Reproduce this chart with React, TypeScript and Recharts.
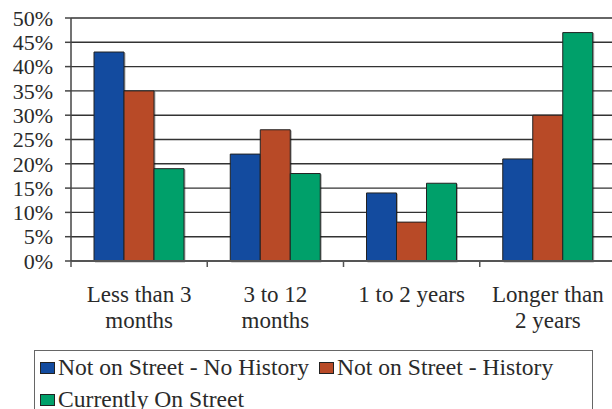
import React from 'react';
import { BarChart, Bar, XAxis, YAxis, CartesianGrid, Rectangle } from 'recharts';

const categories = ['Less than 3\nmonths', '3 to 12\nmonths', '1 to 2 years', 'Longer than\n2 years'];
const notOnStreetNoHistory = [43, 22, 14, 21];
const notOnStreetHistory = [35, 27, 8, 30];
const currentlyOnStreet = [19, 18, 16, 47];
const yTicks = [0, 5, 10, 15, 20, 25, 30, 35, 40, 45, 50];

const seriesNames = ['Not on Street - No History', 'Not on Street - History', 'Currently On Street'];
const seriesKeys = ['noHistory', 'history', 'onStreet'];
const seriesColors = ['#134B9F', '#B84A27', '#00A06A'];

const data = categories.map((c, i) => ({
  name: c,
  noHistory: notOnStreetNoHistory[i],
  history: notOnStreetHistory[i],
  onStreet: currentlyOnStreet[i],
}));

const FONT = "'Liberation Serif', 'DejaVu Serif', serif";
const CHART_W = 620;
const CHART_H = 409;
const Y_AXIS_W = 71;
const RIGHT_M = 4;
const BAND = (CHART_W - Y_AXIS_W - RIGHT_M) / categories.length;

function XTick(props: any) {
  const { x, y, payload, index } = props;
  const lines = String(payload.value).split('\n');
  return (
    <g>
      <line x1={x - BAND / 2} x2={x - BAND / 2} y1={y} y2={y + 6} stroke="#555" strokeWidth={1.5} />
      {index === categories.length - 1 && (
        <line x1={x + BAND / 2} x2={x + BAND / 2} y1={y} y2={y + 6} stroke="#555" strokeWidth={1.5} />
      )}
      <text x={x} y={y} textAnchor="middle" style={{ fontFamily: FONT }} fontSize={23} fill="#2a2a2a">
        {lines.map((l, i) => (
          <tspan key={i} x={x} y={y + 41 + i * 26}>{l}</tspan>
        ))}
      </text>
    </g>
  );
}

function YTick(props: any) {
  const { x, y, payload } = props;
  return (
    <text x={x} y={y} dy="0.35em" textAnchor="end" style={{ fontFamily: FONT }} fontSize={22} fill="#2a2a2a">
      {`${payload.value}%`}
    </text>
  );
}

function ShadowBar(props: any) {
  return <Rectangle {...props} style={{ filter: 'drop-shadow(1.5px 1px 0.6px rgba(0,0,0,0.3))' }} />;
}

function LegendBox() {
  return (
    <div
      style={{
        position: 'absolute',
        left: 34,
        top: 350,
        width: 559,
        height: 90,
        border: '1px solid #666',
        boxSizing: 'border-box',
        paddingLeft: 5,
        display: 'flex',
        flexWrap: 'wrap',
        alignContent: 'flex-start',
        fontFamily: FONT,
        fontSize: 23.6,
        lineHeight: '32px',
        color: '#2a2a2a',
      }}
    >
      {seriesNames.map((n, i) => (
        <div key={n} style={{ display: 'flex', alignItems: 'center', marginRight: 10, whiteSpace: 'nowrap' }}>
          <span
            style={{
              display: 'inline-block',
              width: 15,
              height: 12,
              background: seriesColors[i],
              border: '1px solid #222',
              boxSizing: 'border-box',
              marginRight: 3,
              marginTop: 2,
            }}
          />
          <span>{n}</span>
        </div>
      ))}
    </div>
  );
}

export default function App() {
  return (
    <div style={{ position: 'absolute', left: 0, top: 0, width: 612, height: 409, overflow: 'hidden', background: '#fff', fontFamily: FONT }}>
      <BarChart
        width={CHART_W}
        height={CHART_H}
        data={data}
        margin={{ top: 18, right: RIGHT_M, left: 0, bottom: 0 }}
        barCategoryGap={23}
        barGap={0}
        style={{ fontFamily: FONT }}
      >
        <CartesianGrid vertical={false} stroke="#333" strokeWidth={1.4} />
        <XAxis
          dataKey="name"
          height={148}
          interval={0}
          tickSize={0}
          tickMargin={0}
          tickLine={false}
          axisLine={{ stroke: '#555', strokeWidth: 2 }}
          tick={<XTick />}
        />
        <YAxis
          width={Y_AXIS_W}
          domain={[0, 50]}
          ticks={yTicks}
          interval={0}
          tickSize={6}
          tickMargin={12}
          tickLine={{ stroke: '#444', strokeWidth: 1.5 }}
          axisLine={{ stroke: '#444', strokeWidth: 1.5 }}
          tick={<YTick />}
        />
        {seriesKeys.map((k, i) => (
          <Bar
            key={k}
            dataKey={k}
            name={seriesNames[i]}
            fill={seriesColors[i]}
            stroke="#222"
            strokeWidth={1}
            shape={<ShadowBar />}
            isAnimationActive={false}
          />
        ))}
      </BarChart>
      <LegendBox />
    </div>
  );
}
